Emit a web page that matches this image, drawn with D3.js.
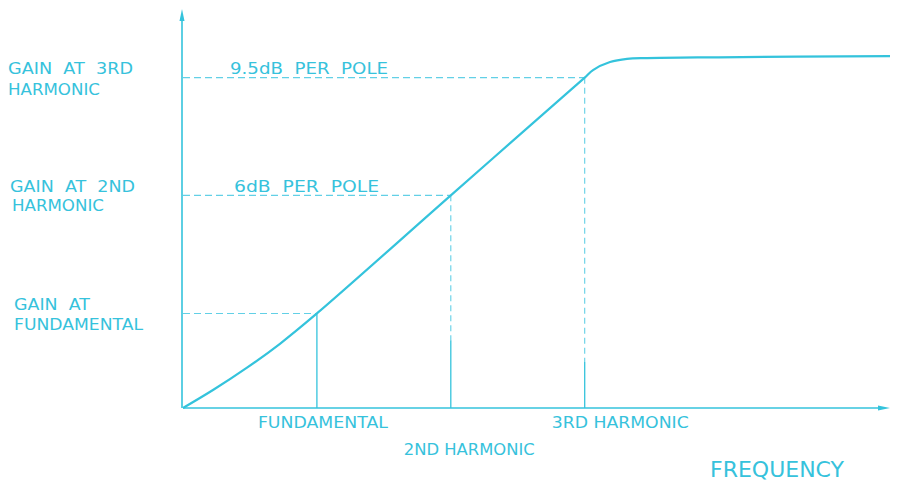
<!DOCTYPE html>
<html>
<head>
<meta charset="utf-8">
<script src="https://cdn.jsdelivr.net/npm/d3@7"></script>
<style>
  html, body { margin: 0; padding: 0; background: #fff; }
  svg { display: block; }
  text { font-family: "DejaVu Sans", sans-serif; fill: #36c2dc; white-space: pre; }
</style>
</head>
<body>
<svg id="chart" width="900" height="483"></svg>
<script>
// ---- data ----
// response curve: frequency (multiples of the fundamental) vs. gain (arbitrary units)
const curveFreq = [0, 0.224, 0.478, 0.724, 1, 2, 2.9, 3, 3.062, 3.189, 3.316, 3.465, 4, 5.28];
const curveGain = [0, 4.5, 10.1, 16.1, 23.7, 53.3, 79.85, 82.8, 84.7, 86.7, 87.5, 87.7, 87.9, 88.2];

// harmonic markers
const harmonicFreq = [1, 2, 3];
const harmonicGain = [23.7, 53.3, 82.8];
const harmonicLineTop = [23.7, 17.0, 11.5];   // height of the solid spectral lines
const harmonicLabels = ["FUNDAMENTAL", "2ND HARMONIC", "3RD HARMONIC"];

const gainLabels = [["GAIN  AT", "FUNDAMENTAL"], ["GAIN  AT  2ND", "HARMONIC"], ["GAIN  AT  3RD", "HARMONIC"]];
const slopeLabels = ["6dB  PER  POLE", "9.5dB  PER  POLE"];
const xAxisTitle = "FREQUENCY";

// ---- layout ----
const svg = d3.select("#chart");
const x = d3.scaleLinear().domain([0, 5.28]).range([183, 890]);
const y = d3.scaleLinear().domain([0, 100]).range([408, 9]);
const lineCol = "#34c3dc", dashCol = "#62d0e6";

// dashed guides
harmonicFreq.forEach((f, i) => {
  svg.append("line")
    .attr("x1", x(0)).attr("x2", x(f))
    .attr("y1", y(harmonicGain[i])).attr("y2", y(harmonicGain[i]))
    .attr("stroke", dashCol).attr("stroke-width", 1.1)
    .attr("stroke-dasharray", "7,4");
  if (harmonicLineTop[i] < harmonicGain[i]) {
    svg.append("line")
      .attr("x1", x(f)).attr("x2", x(f))
      .attr("y1", y(harmonicGain[i])).attr("y2", y(harmonicLineTop[i]))
      .attr("stroke", dashCol).attr("stroke-width", 1.1)
      .attr("stroke-dasharray", "6,4");
  }
  // solid spectral line
  svg.append("line")
    .attr("x1", x(f)).attr("x2", x(f))
    .attr("y1", y(0)).attr("y2", y(harmonicLineTop[i]))
    .attr("stroke", lineCol).attr("stroke-width", 1.3);
});

// axes
const xAxisG = svg.append("g").attr("transform", `translate(0,${y(0)})`)
  .call(d3.axisBottom(x).tickValues([]).tickSizeOuter(0));
xAxisG.select(".domain").attr("stroke", lineCol).attr("stroke-width", 1.6).attr("d", `M${x(0)},0H${x.range()[1] - 6}`);
const yAxisG = svg.append("g").attr("transform", `translate(${x(0) - 1},0)`)
  .call(d3.axisLeft(y).tickValues([]).tickSizeOuter(0));
yAxisG.select(".domain").attr("stroke", lineCol).attr("stroke-width", 1.6).attr("d", `M0,${y(0)}V${y.range()[1] + 6}`);

// arrowheads
svg.append("path")
  .attr("d", `M${x.range()[1]},${y(0)} L${x.range()[1] - 12},${y(0) - 2.5} L${x.range()[1] - 12},${y(0) + 2.5} Z`)
  .attr("fill", lineCol);
svg.append("path")
  .attr("d", `M${x(0) - 1},${y.range()[1]} L${x(0) - 3.5},${y.range()[1] + 12} L${x(0) + 1.5},${y.range()[1] + 12} Z`)
  .attr("fill", lineCol);

// response curve
const pts = curveFreq.map((f, i) => [f, curveGain[i]]);
svg.append("path")
  .datum(pts)
  .attr("d", d3.line().x(d => x(d[0])).y(d => y(d[1])).curve(d3.curveCatmullRom.alpha(0.5)))
  .attr("fill", "none").attr("stroke", lineCol).attr("stroke-width", 2.2)
  .attr("stroke-linejoin", "round");

// labels helper
function label(t, px, py, w, size) {
  svg.append("text").attr("x", px).attr("y", py)
    .attr("font-size", size)
    .attr("textLength", w).attr("lengthAdjust", "spacingAndGlyphs")
    .text(t);
}

// left gain labels
const gainLabelLayout = [
  { x: 14, dy1: -3, dy2: 17, w1: 76, w2: 129 },
  { x: 10, dy1: -3, dy2: 16, w1: 125, w2: 92 },
  { x: 8, dy1: -4, dy2: 17, w1: 125, w2: 92 }
];
gainLabels.forEach((lines, i) => {
  const L = gainLabelLayout[i];
  const base = y(harmonicGain[i]);
  label(lines[0], L.x, base + L.dy1, L.w1, 15.5);
  label(lines[1], L.x + (i === 1 ? 2 : 0), base + L.dy2, L.w2, 15.5);
});

// slope labels
label(slopeLabels[0], 234, y(harmonicGain[1]) - 3, 145, 15.5);
label(slopeLabels[1], 230, y(harmonicGain[2]) - 4, 158, 15.5);

// harmonic labels under the axis
const hLab = [
  { dx: -59, yy: 428, w: 130 },
  { dx: -47, yy: 455, w: 131 },
  { dx: -33, yy: 428, w: 137 }
];
harmonicFreq.forEach((f, i) => {
  label(harmonicLabels[i], x(f) + hLab[i].dx, hLab[i].yy, hLab[i].w, 15.5);
});

// axis title
label(xAxisTitle, 710, 477, 134, 22);
</script>
</body>
</html>
